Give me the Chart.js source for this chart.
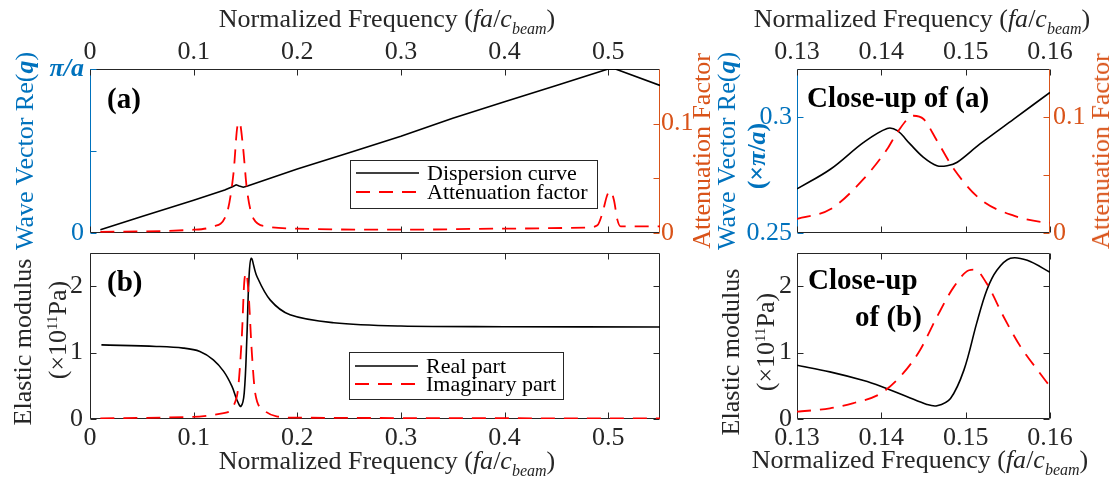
<!DOCTYPE html>
<html>
<head>
<meta charset="utf-8">
<script src="https://cdn.jsdelivr.net/npm/chart.js@4.4.1/dist/chart.umd.min.js"></script>
<style>
  body { margin: 0; background: #fff; width: 1113px; height: 486px; overflow: hidden; position: relative; font-family: "Liberation Serif", serif; }
  canvas { position: absolute; left: 0; top: 0; }
  .t { position: absolute; white-space: nowrap; font-size: 26px; line-height: 1; color: #262626; }
  .c { transform: translate(-50%, -50%); }
  .v { transform: translate(-50%, -50%) rotate(-90deg); }
  .blue { color: #0072bd; }
  .orange { color: #d95319; }
  .lbl { position: absolute; white-space: nowrap; font-size: 29px; font-weight: bold; line-height: 1; color: #000; transform: translateY(-50%); }
  sub { font-size: 16px; font-style: italic; vertical-align: -7px; line-height: 0; }
  sup { font-size: 15px; vertical-align: 9px; line-height: 0; }
</style>
</head>
<body>
<canvas id="pa" width="1113" height="486"></canvas>
<canvas id="pb" width="1113" height="486"></canvas>
<canvas id="pc" width="1113" height="486"></canvas>
<canvas id="pd" width="1113" height="486"></canvas>

<div class="t c" style="left:387px;top:19px">Normalized Frequency (<i>fa</i>/<i>c</i><sub>beam</sub>)</div>
<div class="t c" style="left:922px;top:19px">Normalized Frequency (<i>fa</i>/<i>c</i><sub>beam</sub>)</div>
<div class="t c" style="left:387px;top:461px">Normalized Frequency (<i>fa</i>/<i>c</i><sub>beam</sub>)</div>
<div class="t c" style="left:920px;top:460px">Normalized Frequency (<i>fa</i>/<i>c</i><sub>beam</sub>)</div>

<div class="t v blue" style="left:25px;top:151px">Wave Vector Re(<b><i>q</i></b>)</div>
<div class="t v orange" style="left:702px;top:151px">Attenuation Factor</div>
<div class="t v blue" style="left:727px;top:151px">Wave Vector Re(<b><i>q</i></b>)</div>
<div class="t v blue" style="left:757px;top:156px"><b>(×<i>π</i>/<i>a</i>)</b></div>
<div class="t v orange" style="left:1101px;top:151px">Attenuation Factor</div>

<div class="t v" style="left:23px;top:342px">Elastic modulus</div>
<div class="t v" style="left:58px;top:330px">(×10<sup>11</sup>Pa)</div>
<div class="t v" style="left:731px;top:352px">Elastic modulus</div>
<div class="t v" style="left:766px;top:342px">(×10<sup>11</sup>Pa)</div>

<div class="lbl" style="left:107px;top:98px">(a)</div>
<div class="lbl" style="left:107px;top:281px">(b)</div>
<div class="lbl" style="left:807px;top:97px">Close-up of (a)</div>
<div class="lbl" style="left:808px;top:279px">Close-up</div>
<div class="lbl" style="left:855px;top:316px">of (b)</div>

<script>
// (a) dispersion curve, Re(q) in units of pi/a
const dispFreq = [0.01, 0.05, 0.1, 0.13, 0.138, 0.141, 0.144, 0.148, 0.152, 0.2, 0.25, 0.3, 0.35, 0.4, 0.45, 0.5, 0.507, 0.55];
const dispRe   = [0.02, 0.10, 0.2, 0.262, 0.284, 0.294, 0.286, 0.279, 0.286, 0.39, 0.49, 0.59, 0.70, 0.80, 0.90, 1.0, 1.0, 0.9];
// (a) attenuation factor
const attFreq = [0.01, 0.1, 0.119, 0.132, 0.1385, 0.1423, 0.1443, 0.1475, 0.1514, 0.1578, 0.17, 0.2, 0.3, 0.4, 0.48, 0.4896, 0.4944, 0.4992, 0.5024, 0.5056, 0.5089, 0.512, 0.55];
const attVal  = [0.001, 0.003, 0.006, 0.018, 0.055, 0.098, 0.101, 0.08, 0.04, 0.013, 0.006, 0.004, 0.003, 0.004, 0.005, 0.007, 0.018, 0.035, 0.038, 0.030, 0.012, 0.006, 0.006];

// (b) elastic modulus, x1e11 Pa
const modFreq = [0.011, 0.064, 0.09, 0.106, 0.119, 0.129, 0.137, 0.1417, 0.1456, 0.1488, 0.1514, 0.1533, 0.1556, 0.161, 0.174, 0.193, 0.235, 0.3, 0.4, 0.55];
const modRe   = [1.117, 1.093, 1.068, 1.018, 0.892, 0.717, 0.491, 0.29, 0.19, 0.39, 1.24, 2.09, 2.42, 2.15, 1.79, 1.57, 1.45, 1.40, 1.39, 1.385];
const modImFreq = [0.01, 0.097, 0.129, 0.1417, 0.1465, 0.1488, 0.1507, 0.153, 0.1562, 0.1594, 0.1675, 0.18, 0.2, 0.55];
const modIm     = [0.01, 0.03, 0.09, 0.34, 1.24, 2.05, 2.2, 1.89, 0.99, 0.39, 0.14, 0.04, 0.02, 0.01];

// close-up of (a)
const zoomFreq = [0.13, 0.134, 0.1379, 0.1407, 0.1419, 0.1434, 0.145, 0.1466, 0.1478, 0.149, 0.1517, 0.1557, 0.16];
const zoomRe   = [0.269, 0.2776, 0.2891, 0.2951, 0.2941, 0.2884, 0.2826, 0.279, 0.279, 0.2805, 0.2884, 0.2991, 0.3106];
const zoomAttFreq = [0.13, 0.134, 0.1379, 0.1407, 0.1419, 0.1438, 0.145, 0.1466, 0.1486, 0.1517, 0.1557, 0.1593, 0.16];
const zoomAtt     = [0.0121, 0.0207, 0.0466, 0.0724, 0.0868, 0.1011, 0.0983, 0.0796, 0.0552, 0.0293, 0.0149, 0.0092, 0.009];

// close-up of (b)
const zmFreq = [0.13, 0.1339, 0.1379, 0.14, 0.143, 0.1454, 0.1466, 0.1482, 0.1498, 0.1513, 0.1525, 0.1537, 0.1553, 0.1573, 0.16];
const zmRe   = [0.81, 0.71, 0.58, 0.49, 0.34, 0.22, 0.2, 0.31, 0.74, 1.44, 1.94, 2.24, 2.42, 2.39, 2.21];
const zmImFreq = [0.13, 0.1339, 0.1367, 0.14, 0.1426, 0.1446, 0.1466, 0.1486, 0.1504, 0.1511, 0.1525, 0.1545, 0.1565, 0.1585, 0.16];
const zmIm     = [0.11, 0.16, 0.24, 0.39, 0.69, 1.04, 1.54, 1.99, 2.24, 2.25, 2.04, 1.54, 1.09, 0.74, 0.49];

// ticks
const wideTicks = [0, 0.1, 0.2, 0.3, 0.4, 0.5];
const narrowTicks = [0.13, 0.14, 0.15, 0.16];
const qTicks = [0, 0.5, 1];
const qLabels = ['0', '', 'π/a'];
const attTicks = [0, 0.05, 0.1];
const attLabels = ['0', '', '0.1'];
const zoomQTicks = [0.25, 0.3];
const modTicks = [0, 1, 2];

const W = 1113, H = 486, AXIS = 50;
const DARK = '#262626', BLUE = '#0072bd', ORANGE = '#d95319';
const SERIF = '"Liberation Serif", "Times New Roman", serif';

const pts = (xs, ys) => xs.map((x, i) => ({ x: x, y: ys[i] }));
const fmt = v => String(+v.toFixed(3));

function fixSize(s) {
    if (s.isHorizontal()) { s.height = AXIS; s.paddingLeft = 0; s.paddingRight = 0; }
    else { s.width = AXIS; s.paddingTop = 0; s.paddingBottom = 0; }
}

function axis(o) {
    return {
        type: 'linear',
        position: o.pos,
        min: o.min,
        max: o.max,
        grid: { display: false, drawTicks: false },
        border: { display: false },
        afterBuildTicks: s => { s.ticks = o.ticks.map(v => ({ value: v })); },
        afterFit: fixSize,
        ticks: {
            display: o.show !== false,
            color: o.color || DARK,
            padding: o.padding,
            autoSkip: false,
            maxRotation: 0,
            font: o.font || { family: SERIF, size: 26 },
            callback: o.labels ? (v, i) => o.labels[i] : v => fmt(v)
        }
    };
}

function padFor(r, xPos) {
    return {
        left: r.l - AXIS,
        right: W - r.r - AXIS,
        top: xPos === 'top' ? r.t - AXIS : r.t,
        bottom: xPos === 'bottom' ? H - r.b - AXIS : H - r.b
    };
}

// box with inward MATLAB-style ticks
const frame = {
    id: 'frame',
    beforeDatasetsDraw(chart, args, o) {
        const { ctx, chartArea: a } = chart;
        const L = Math.round(a.left) + 0.5, R = Math.round(a.right) - 0.5;
        const T = Math.round(a.top) + 0.5, B = Math.round(a.bottom) - 0.5;
        const line = (x1, y1, x2, y2, c) => {
            ctx.strokeStyle = c; ctx.beginPath(); ctx.moveTo(x1, y1); ctx.lineTo(x2, y2); ctx.stroke();
        };
        ctx.save();
        ctx.lineWidth = 1;
        line(L, T, R, T, DARK);
        line(L, B, R, B, DARK);
        line(L, T, L, B, o.left || DARK);
        line(R, T, R, B, o.right || DARK);
        const tl = 6;
        const xs = chart.scales.x;
        xs.ticks.forEach(t => {
            const p = Math.round(xs.getPixelForValue(t.value)) + 0.5;
            line(p, B, p, B - tl, DARK);
            line(p, T, p, T + tl, DARK);
        });
        const ls = chart.scales[o.leftTicks];
        ls.ticks.forEach(t => {
            const p = Math.round(ls.getPixelForValue(t.value)) + 0.5;
            line(L, p, L + tl, p, o.left || DARK);
        });
        const rs = chart.scales[o.rightTicks];
        rs.ticks.forEach(t => {
            const p = Math.round(rs.getPixelForValue(t.value)) + 0.5;
            line(R, p, R - tl, p, o.right || DARK);
        });
        ctx.restore();
    }
};

const boxLegend = {
    id: 'boxLegend',
    afterDatasetsDraw(chart, args, o) {
        if (!o.box) return;
        const { ctx } = chart;
        const [x, y, w, h] = o.box;
        ctx.save();
        ctx.fillStyle = '#fff';
        ctx.fillRect(x, y, w, h);
        ctx.strokeStyle = DARK; ctx.lineWidth = 1;
        ctx.strokeRect(x + 0.5, y + 0.5, w, h);
        ctx.font = '22px ' + SERIF;
        ctx.textBaseline = 'middle';
        ctx.fillStyle = '#000';
        chart.data.datasets.forEach((d, i) => {
            const ry = y + o.rows[i];
            ctx.strokeStyle = d.borderColor;
            ctx.lineWidth = d.borderWidth;
            ctx.setLineDash(d.borderDash || []);
            ctx.beginPath(); ctx.moveTo(x + 6, ry); ctx.lineTo(x + 69, ry); ctx.stroke();
            ctx.setLineDash([]);
            ctx.fillText(d.label, x + 77, ry + 1);
        });
        ctx.restore();
    }
};

Chart.register(frame, boxLegend);

function solid(label, data, yAxisID, straight) {
    return { label: label, data: data, yAxisID: yAxisID, borderColor: '#000', borderWidth: 1.6, pointRadius: 0,
             tension: straight ? 0 : 0.35, order: 1 };
}
function dashed(label, data, yAxisID) {
    return { label: label, data: data, yAxisID: yAxisID, borderColor: '#ff0000', borderWidth: 1.8, borderDash: [14, 9],
             pointRadius: 0, cubicInterpolationMode: 'monotone', order: 0 };
}

function makeChart(id, rect, xPos, datasets, scales, plugins) {
    return new Chart(document.getElementById(id), {
        type: 'line',
        data: { datasets: datasets },
        options: {
            responsive: false,
            animation: false,
            devicePixelRatio: 1,
            layout: { padding: padFor(rect, xPos) },
            scales: scales,
            plugins: Object.assign({ legend: { display: false }, tooltip: { enabled: false } }, plugins)
        }
    });
}

const boldItalic = { family: SERIF, size: 26, weight: 'bold', style: 'italic' };
const plain = { family: SERIF, size: 26 };

// (a)
makeChart('pa', { l: 90, t: 69, r: 660, b: 233 }, 'top',
    [solid('Dispersion curve', pts(dispFreq, dispRe), 'y', true),
     dashed('Attenuation factor', pts(attFreq, attVal), 'y2')],
    {
        x: axis({ pos: 'top', min: 0, max: 0.55, ticks: wideTicks, padding: 1 }),
        y: axis({ pos: 'left', min: 0, max: 1, ticks: qTicks, labels: qLabels, color: BLUE, padding: 6,
                  font: c => (c.tick && c.tick.value === 1 ? boldItalic : plain) }),
        y2: axis({ pos: 'right', min: 0, max: 0.15, ticks: attTicks, labels: attLabels, color: ORANGE, padding: 1 })
    },
    { frame: { left: BLUE, right: ORANGE, leftTicks: 'y', rightTicks: 'y2' },
      boxLegend: { box: [350, 160, 247, 48], rows: [13, 32] } });

// (b)
makeChart('pb', { l: 90, t: 253, r: 660, b: 419 }, 'bottom',
    [solid('Real part', pts(modFreq, modRe), 'y'),
     dashed('Imaginary part', pts(modImFreq, modIm), 'y')],
    {
        x: axis({ pos: 'bottom', min: 0, max: 0.55, ticks: wideTicks, padding: 4 }),
        y: axis({ pos: 'left', min: 0, max: 2.5, ticks: modTicks, padding: 7 }),
        y2: axis({ pos: 'right', min: 0, max: 2.5, ticks: modTicks, show: false })
    },
    { frame: { leftTicks: 'y', rightTicks: 'y' },
      boxLegend: { box: [349, 352, 214, 47], rows: [14, 32] } });

// close-up of (a)
makeChart('pc', { l: 797, t: 69, r: 1050, b: 233 }, 'top',
    [solid('Dispersion curve', pts(zoomFreq, zoomRe), 'y'),
     dashed('Attenuation factor', pts(zoomAttFreq, zoomAtt), 'y2')],
    {
        x: axis({ pos: 'top', min: 0.13, max: 0.16, ticks: narrowTicks, padding: 1 }),
        y: axis({ pos: 'left', min: 0.25, max: 0.3207, ticks: zoomQTicks, color: BLUE, padding: 5 }),
        y2: axis({ pos: 'right', min: 0, max: 0.1414, ticks: attTicks, labels: attLabels, color: ORANGE, padding: 3 })
    },
    { frame: { left: BLUE, right: ORANGE, leftTicks: 'y', rightTicks: 'y2' } });

// close-up of (b)
makeChart('pd', { l: 797, t: 253, r: 1050, b: 419 }, 'bottom',
    [solid('Real part', pts(zmFreq, zmRe), 'y'),
     dashed('Imaginary part', pts(zmImFreq, zmIm), 'y')],
    {
        x: axis({ pos: 'bottom', min: 0.13, max: 0.16, ticks: narrowTicks, padding: 4 }),
        y: axis({ pos: 'left', min: 0, max: 2.5, ticks: modTicks, padding: 5 }),
        y2: axis({ pos: 'right', min: 0, max: 2.5, ticks: modTicks, show: false })
    },
    { frame: { leftTicks: 'y', rightTicks: 'y' } });
</script>
</body>
</html>
